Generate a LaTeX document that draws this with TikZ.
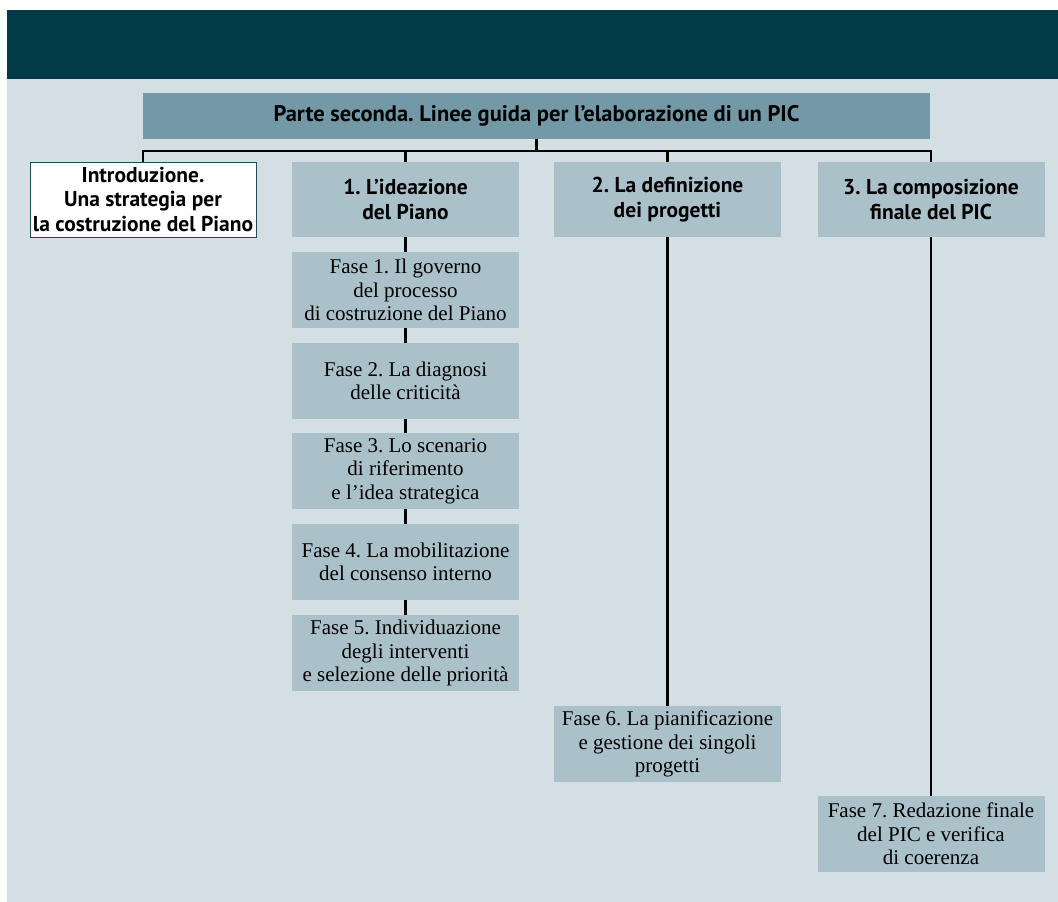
\documentclass[tikz,border=0pt]{standalone}
\usepackage{fontspec}
\setmainfont{Liberation Serif}
\setsansfont{PT Sans}
\usetikzlibrary{positioning,calc}
\definecolor{bandteal}{RGB}{3,58,72}
\definecolor{paleback}{RGB}{212,223,228}
\definecolor{titleteal}{RGB}{115,153,166}
\definecolor{boxteal}{RGB}{170,193,202}
\definecolor{introline}{RGB}{30,75,90}
\frenchspacing

\begin{document}
\begin{tikzpicture}[x=1pt, y=-1pt]
\tikzset{
  headbox/.style={fill=boxteal, minimum width=227pt, minimum height=75pt, inner sep=0pt, align=center, font=\sffamily\bfseries\fontsize{21.5}{24.5}\selectfont},
  fasebox/.style={fill=boxteal, minimum width=227pt, minimum height=76pt, inner sep=0pt, align=center, font=\fontsize{21}{23.5}\selectfont},
  link/.style={draw=black, line width=2.4pt}
}
\useasboundingbox (0,0) rectangle (1058,902);
\fill[paleback] (7,78) rectangle (1058,902);
\fill[bandteal] (7,10) rectangle (1058,79);
\node[fill=titleteal, minimum width=787pt, minimum height=46pt, inner sep=0pt, font=\sffamily\bfseries\fontsize{22.5}{24}\selectfont] (title) at (536.5,115.5) {Parte seconda. Linee guida per l’elaborazione di un PIC};
\node[headbox, fill=white, draw=introline, line width=1pt, minimum width=226pt] (intro) at (143,199.5) {Introduzione.\\Una strategia per\\la costruzione del Piano};
\node[headbox] (ideaz) at (405.5,199.5) {1. L’ideazione\\del Piano};
\node[headbox] (defin) at (667.5,199.5) {2. La definizione\\dei progetti};
\node[headbox] (compo) at (931,199.5) {3. La composizione\\finale del PIC};
\node[fasebox] (f1) at (405.5,290) {Fase 1. Il governo\\del processo\\di costruzione del Piano};
\node[fasebox] (f2) at (405.5,381) {Fase 2. La diagnosi\\delle criticità};
\node[fasebox] (f3) at (405.5,471) {Fase 3. Lo scenario\\di riferimento\\e l’idea strategica};
\node[fasebox] (f4) at (405.5,562) {Fase 4. La mobilitazione\\del consenso interno};
\node[fasebox] (f5) at (405.5,653) {Fase 5. Individuazione\\degli interventi\\e selezione delle priorità};
\node[fasebox] (f6) at (667.5,744) {Fase 6. La pianificazione\\e gestione dei singoli\\progetti};
\node[fasebox] (f7) at (931,834) {Fase 7. Redazione finale\\del PIC e verifica\\di coerenza};
\coordinate (split) at ($(title.south)+(0,12)$);
\draw[link] (title.south) -- (split);
\foreach \n in {intro,ideaz,defin,compo}
  \draw[link] (split) -| (\n.north);
\foreach \a/\b in {ideaz/f1,f1/f2,f2/f3,f3/f4,f4/f5,defin/f6,compo/f7}
  \draw[link] (\a.south) -- (\b.north);
\end{tikzpicture}
\end{document}
